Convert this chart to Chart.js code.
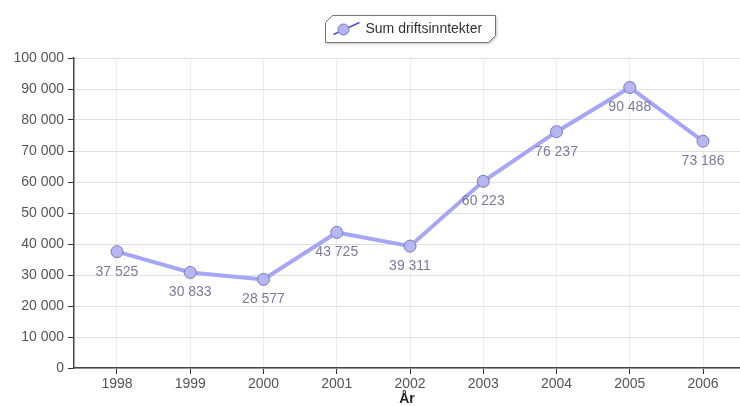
<!DOCTYPE html>
<html lang="no">
<head>
<meta charset="UTF-8">
<title>Sum driftsinntekter</title>
<style>
body { margin: 0; background: #fff; }
#wrap { width: 740px; height: 406px; }
</style>
</head>
<body>
<div id="wrap"><canvas id="chart"></canvas></div>
<script src="https://cdn.jsdelivr.net/npm/chart.js"></script>
<script>
const years = ['1998', '1999', '2000', '2001', '2002', '2003', '2004', '2005', '2006'];
const income = [37525, 30833, 28577, 43725, 39311, 60223, 76237, 90488, 73186];
const seriesName = 'Sum driftsinntekter';
const FONT = '"Liberation Sans", Arial, sans-serif';

function fmt(v) {
  return String(v).replace(/\B(?=(\d{3})+(?!\d))/g, ' ');
}

// value labels under each point
const pointLabels = {
  id: 'pointLabels',
  afterDatasetsDraw(chart) {
    const ctx = chart.ctx;
    const meta = chart.getDatasetMeta(0);
    ctx.save();
    ctx.font = '14px ' + FONT;
    ctx.fillStyle = '#7a7a9c';
    ctx.textAlign = 'center';
    ctx.textBaseline = 'middle';
    meta.data.forEach((pt, i) => {
      ctx.fillText(fmt(income[i]), pt.x, pt.y + 20);
    });
    ctx.restore();
  }
};

// legend box with cut corners
const legendBox = {
  id: 'legendBox',
  afterDraw(chart) {
    const ctx = chart.ctx;
    const x = 325.5, y = 15.5, w = 170, h = 27, c = 7;
    ctx.save();
    ctx.shadowColor = 'rgba(0,0,0,0.3)';
    ctx.shadowBlur = 3;
    ctx.shadowOffsetX = 1;
    ctx.shadowOffsetY = 1;
    ctx.beginPath();
    ctx.moveTo(x + c, y);
    ctx.lineTo(x + w, y);
    ctx.lineTo(x + w, y + h - c);
    ctx.lineTo(x + w - c, y + h);
    ctx.lineTo(x, y + h);
    ctx.lineTo(x, y + c);
    ctx.closePath();
    ctx.fillStyle = '#fff';
    ctx.fill();
    ctx.shadowColor = 'transparent';
    ctx.strokeStyle = '#777';
    ctx.lineWidth = 1;
    ctx.stroke();
    // symbol
    ctx.strokeStyle = '#5050d8';
    ctx.lineWidth = 1.5;
    ctx.beginPath();
    ctx.moveTo(x + 8, y + 19);
    ctx.lineTo(x + 34, y + 7);
    ctx.stroke();
    ctx.beginPath();
    ctx.arc(x + 18, y + 14, 5.5, 0, Math.PI * 2);
    ctx.fillStyle = '#b4b4f4';
    ctx.fill();
    ctx.strokeStyle = '#7777bb';
    ctx.lineWidth = 1;
    ctx.stroke();
    ctx.fillStyle = '#333';
    ctx.font = '14px ' + FONT;
    ctx.textBaseline = 'middle';
    ctx.fillText(seriesName, x + 40, y + 14);
    ctx.restore();
  }
};

new Chart(document.getElementById('chart'), {
  type: 'line',
  data: {
    datasets: [{
      label: seriesName,
      data: income.map((v, i) => ({ x: Number(years[i]), y: v })),
      borderColor: '#a6a6f6',
      borderWidth: 4,
      pointBackgroundColor: '#b6b6f2',
      pointBorderColor: '#7a7ab8',
      pointBorderWidth: 1,
      pointRadius: 6,
      tension: 0,
      fill: false
    }]
  },
  options: {
    responsive: true,
    maintainAspectRatio: false,
    animation: false,
    layout: { autoPadding: false, padding: { top: 58, right: 0, left: 0, bottom: 0 } },
    plugins: {
      legend: { display: false },
      tooltip: { enabled: false }
    },
    scales: {
      x: {
        type: 'linear',
        min: 1997.413,
        max: 2006.505,
        afterBuildTicks: s => { s.ticks = years.map(y => ({ value: Number(y) })); },
        afterFit: s => { s.height = 38; s.paddingLeft = 0; s.paddingRight = 0; },
        grid: { color: '#ededed', tickLength: 6, tickColor: '#333' },
        border: { color: '#444', width: 1.5 },
        ticks: { color: '#555', font: { size: 14, family: FONT }, padding: 2, callback: v => String(v) },
        title: { display: true, text: 'År', color: '#222', font: { size: 14, weight: 'bold', family: FONT, lineHeight: 1 }, padding: { top: 0, bottom: 0 } }
      },
      y: {
        min: 0,
        max: 100000,
        afterFit: s => { s.width = 74; s.paddingTop = 0; s.paddingBottom = 0; },
        grid: { color: '#e0e0e0', tickLength: 6, tickColor: '#333' },
        border: { color: '#444', width: 1.5 },
        ticks: {
          stepSize: 10000,
          color: '#555',
          font: { size: 14, family: FONT },
          padding: 4,
          callback: v => fmt(v)
        }
      }
    }
  },
  plugins: [pointLabels, legendBox]
});
</script>
</body>
</html>
